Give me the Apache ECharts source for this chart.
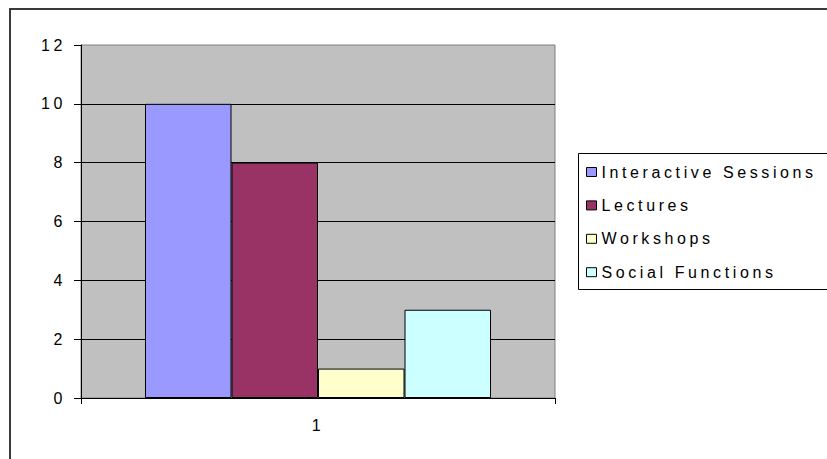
<!DOCTYPE html>
<html>
<head>
<meta charset="utf-8">
<style>
  html, body { margin: 0; padding: 0; background: #ffffff; }
  #chart { width: 827px; height: 459px; }
  /* wide, spaced lettering for all chart text */
  #chart svg text { letter-spacing: 3.6px; }
</style>
<script src="https://cdn.jsdelivr.net/npm/echarts@6/dist/echarts.min.js"></script>
</head>
<body>
<div id="chart"></div>
<script>
// Category and values
const categories = ['1'];
const seriesNames = ['Interactive Sessions', 'Lectures', 'Workshops', 'Social Functions'];
const interactiveSessions = [10];
const lectures = [8];
const workshops = [1];
const socialFunctions = [3];
const seriesValues = [interactiveSessions, lectures, workshops, socialFunctions];
const seriesColors = ['#9999ff', '#993366', '#ffffcc', '#ccffff'];

const FONT = '"Liberation Sans", Arial, sans-serif';

const chart = echarts.init(document.getElementById('chart'), null, { renderer: 'svg' });

chart.setOption({
  animation: false,
  backgroundColor: '#ffffff',
  textStyle: { fontFamily: FONT },
  graphic: [
    // outer chart frame (runs past the right and bottom edges)
    {
      type: 'rect', z: 100, silent: true,
      shape: { x: 10, y: 9, width: 900, height: 500 },
      style: { fill: null, stroke: '#3a3a3a', lineWidth: 2 }
    },
    // legend box
    {
      type: 'rect', z: 100, silent: true,
      shape: { x: 578.5, y: 153.5, width: 260, height: 136 },
      style: { fill: '#ffffff', stroke: '#000000', lineWidth: 1 }
    }
  ],
  grid: {
    left: 81, right: 272, top: 45, bottom: 61,
    show: true,
    backgroundColor: '#c0c0c0',
    borderColor: '#808080',
    borderWidth: 1
  },
  legend: {
    orient: 'vertical',
    left: 586, top: 164,
    padding: 0,
    z: 110,
    itemWidth: 10, itemHeight: 9,
    itemGap: 17.4,
    icon: 'rect',
    data: seriesNames,
    selectedMode: false,
    itemStyle: { borderColor: '#000000', borderWidth: 1 },
    textStyle: { fontFamily: FONT, fontSize: 16, color: '#000000', lineHeight: 16 }
  },
  xAxis: {
    type: 'category',
    data: categories,
    axisLine: { show: true, lineStyle: { color: '#000000', width: 1 } },
    axisTick: { show: true, length: 6, lineStyle: { color: '#000000' } },
    axisLabel: { color: '#000000', fontSize: 16, fontFamily: FONT, margin: 19 },
    splitLine: { show: false }
  },
  yAxis: {
    type: 'value',
    min: 0, max: 12, interval: 2,
    axisLine: { show: true, lineStyle: { color: '#000000', width: 1 } },
    axisTick: { show: true, length: 7, lineStyle: { color: '#000000' } },
    axisLabel: { color: '#000000', fontSize: 16, fontFamily: FONT, margin: 15 },
    splitLine: { show: true, showMaxLine: false, lineStyle: { color: '#000000', width: 1 } }
  },
  series: seriesNames.map((name, i) => ({
    name: name,
    type: 'bar',
    data: seriesValues[i],
    barGap: '0%',
    barCategoryGap: '27%',
    itemStyle: { color: seriesColors[i], borderColor: '#000000', borderWidth: 1 }
  }))
});
</script>
</body>
</html>
